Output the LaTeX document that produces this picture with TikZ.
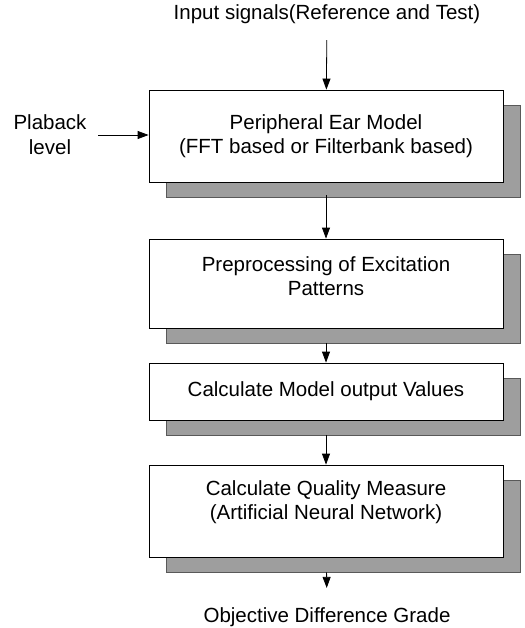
\documentclass[tikz,border=0pt]{standalone}
\usepackage{fontspec}
\setmainfont{Liberation Sans}
\usetikzlibrary{arrows.meta,shadows,positioning}

\begin{document}
\begin{tikzpicture}[x=1pt,y=-1pt,
		stage/.style={draw, line width=0.8pt, fill=white, minimum width=354pt, align=center,
			font=\fontsize{20.5}{24}\selectfont,
			copy shadow={shadow xshift=17pt, shadow yshift=-15pt, fill=black!38, draw=black!65, line width=0.6pt}},
		flow/.style={-{Triangle[width=8pt,length=11pt]}, line width=0.8pt},
		lbl/.style={font=\fontsize{20.5}{25}\selectfont, align=center}]
		\useasboundingbox (0,0) rectangle (524,628);
		
		\node[lbl] (input) at (327,14) {Input signals(Reference and Test)};
		\node[lbl] (play) at (50,135) {Plaback\\level};
		
		\node[stage, minimum height=92pt] (ear) at (326,136) {Peripheral Ear Model\\(FFT based or Filterbank based)};
		\node[stage, minimum height=89pt, text depth=14pt] (prep) at (326,283.5) {Preprocessing of Excitation\\Patterns};
		\node[stage, minimum height=57pt] (calc) at (326,391.5) {Calculate Model output Values};
		\node[stage, minimum height=92pt, text depth=22pt] (quality) at (326,511) {Calculate Quality Measure\\(Artificial Neural Network)};
		
		\node[lbl] (odg) at (327,617) {Objective Difference Grade};
		
		\draw[flow, shorten <=13pt] (input) -- (ear);
		\draw[flow, shorten <=8pt] (play.east) -- (play.east -| ear.west);
		\draw[flow, shorten <=13pt] (ear) -- (prep);
		\draw[flow, shorten <=15pt] (prep) -- (calc);
		\draw[flow, shorten <=15pt] (calc) -- (quality);
		\draw[flow, shorten <=15pt, shorten >=16pt] (quality) -- (odg);
	\end{tikzpicture}
\end{document}
